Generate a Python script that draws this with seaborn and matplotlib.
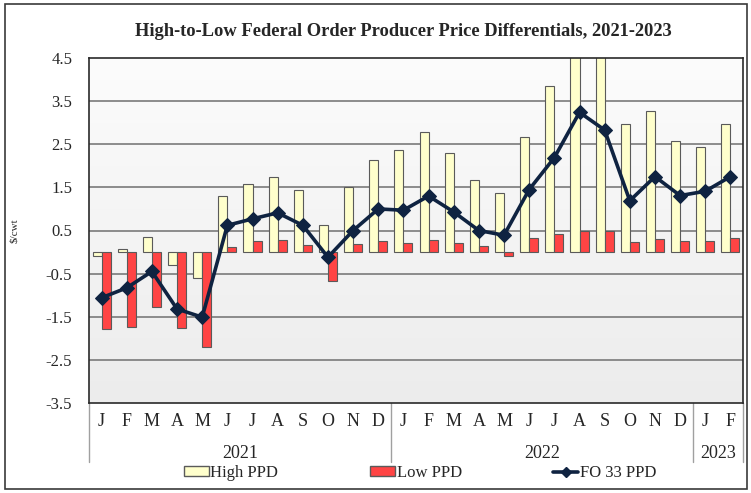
import matplotlib

matplotlib.use("Agg")

import matplotlib.pyplot as plt
import matplotlib.transforms as mtransforms
import numpy as np
import pandas as pd
import seaborn as sns
from matplotlib.lines import Line2D
from matplotlib.patches import Patch, Rectangle

# monthly values, Jan 2021 - Feb 2023 ($/cwt)
month_labels = list("JFMAMJJASOND") * 2 + ["J", "F"]
year_labels = ["2021", "2022", "2023"]
year_spans = [(0, 11), (12, 23), (24, 25)]
high_ppd = [-0.10, 0.06, 0.36, -0.30, -0.61, 1.31, 1.58, 1.75, 1.44, 0.62, 1.52, 2.14,
            2.37, 2.78, 2.30, 1.66, 1.38, 2.66, 3.84, 5.30, 4.90, 2.97, 3.26, 2.57,
            2.43, 2.98]
low_ppd = [-1.79, -1.74, -1.28, -1.76, -2.20, 0.11, 0.26, 0.29, 0.16, -0.68, 0.19, 0.26,
           0.22, 0.29, 0.22, 0.15, -0.08, 0.32, 0.42, 0.50, 0.48, 0.23, 0.30, 0.25,
           0.26, 0.32]
fo33_ppd = [-1.06, -0.83, -0.45, -1.32, -1.51, 0.62, 0.77, 0.91, 0.62, -0.12, 0.50, 1.00,
            0.97, 1.30, 0.93, 0.50, 0.39, 1.45, 2.19, 3.24, 2.83, 1.19, 1.75, 1.31,
            1.41, 1.75]
y_ticks = [4.5, 3.5, 2.5, 1.5, 0.5, -0.5, -1.5, -2.5, -3.5]

HIGH_COLOR = "#FFFFCC"
LOW_COLOR = "#FF4444"
LINE_COLOR = "#0F2341"
SERIF = ["Liberation Serif", "DejaVu Serif"]

n = len(month_labels)
bars = pd.DataFrame(
    {
        "month": list(range(n)) * 2,
        "series": ["High PPD"] * n + ["Low PPD"] * n,
        "value": high_ppd + low_ppd,
    }
)

sns.set_theme(style="white")
plt.rcParams["font.family"] = SERIF

fig = plt.figure(figsize=(7.51, 4.93), dpi=100)
ax = fig.add_axes([89 / 751, 1 - 403 / 493, 654 / 751, 345 / 493])

# soft vertical gradient in the plot area
grad = np.linspace(0, 1, 256).reshape(-1, 1)
ax.imshow(
    grad,
    cmap=matplotlib.colors.LinearSegmentedColormap.from_list("bg", ["#FCFCFC", "#ECECEC"]),
    extent=(-0.5, n - 0.5, -3.5, 4.5),
    aspect="auto",
    zorder=0,
    origin="upper",
)
for yv in y_ticks[1:-1]:
    ax.axhline(yv, color="#7A7A7A", linewidth=1.2, zorder=1)

sns.barplot(
    data=bars,
    x="month",
    y="value",
    hue="series",
    palette={"High PPD": HIGH_COLOR, "Low PPD": LOW_COLOR},
    saturation=1,
    width=0.72,
    gap=0,
    edgecolor="#5A5A5A",
    linewidth=0.8,
    legend=False,
    ax=ax,
    zorder=2,
)
sns.lineplot(
    x=np.arange(n),
    y=fo33_ppd,
    color=LINE_COLOR,
    linewidth=2.6,
    marker="D",
    markersize=7,
    markeredgecolor=LINE_COLOR,
    ax=ax,
    zorder=4,
)

ax.set_xlim(-0.5, n - 0.5)
ax.set_ylim(-3.5, 4.5)
ax.set_yticks(y_ticks)
ax.set_yticklabels([f"{v:.1f}" for v in y_ticks], fontsize=12)
ax.tick_params(axis="y", direction="out", length=4.5, width=1, color="#333333", pad=7.5)
ax.set_xticks([])
ax.set_xlabel("")
ax.set_ylabel("$/cwt", fontsize=8, labelpad=19)
for side in ax.spines.values():
    side.set_color("#2A2A2A")
    side.set_linewidth(1.2)

# month letters, year labels and group separators under the axis
trans = mtransforms.blended_transform_factory(ax.transData, ax.transAxes)
for i, lab in enumerate(month_labels):
    ax.text(i, -0.055, lab, transform=trans, ha="center", va="center", fontsize=13)
for lab, (a, b) in zip(year_labels, year_spans):
    ax.text((a + b) / 2, -0.146, lab, transform=trans, ha="center", va="center", fontsize=13)
for xs in [-0.5, 11.5, 23.5, n - 0.5]:
    ax.add_line(Line2D([xs, xs], [0, -0.172], transform=trans, color="#A0A0A0",
                       linewidth=1, clip_on=False))

fig.text(403 / 751, 1 - 32 / 493, "High-to-Low Federal Order Producer Price Differentials, 2021-2023",
         ha="center", va="center", fontsize=13.3, fontweight="bold")

handles = [
    Patch(facecolor=HIGH_COLOR, edgecolor="#5A5A5A", label="High PPD"),
    Patch(facecolor=LOW_COLOR, edgecolor="#5A5A5A", label="Low PPD"),
    Line2D([], [], color=LINE_COLOR, linewidth=2.6, marker="D", markersize=5, label="FO 33 PPD"),
]
fig.legend(
    handles=handles,
    loc="center",
    bbox_to_anchor=(420 / 751, 1 - 473 / 493),
    ncol=3,
    frameon=False,
    fontsize=12,
    handlelength=1.5,
    handleheight=0.5,
    handletextpad=0.1,
    columnspacing=5.5,
    borderpad=0,
)

fig.add_artist(Rectangle((5 / 751, 4 / 493), 742 / 751, 485 / 493, transform=fig.transFigure,
                         fill=False, edgecolor="#3A3A3A", linewidth=1.2))

fig.savefig("out.png", dpi=100)
plt.close(fig)
